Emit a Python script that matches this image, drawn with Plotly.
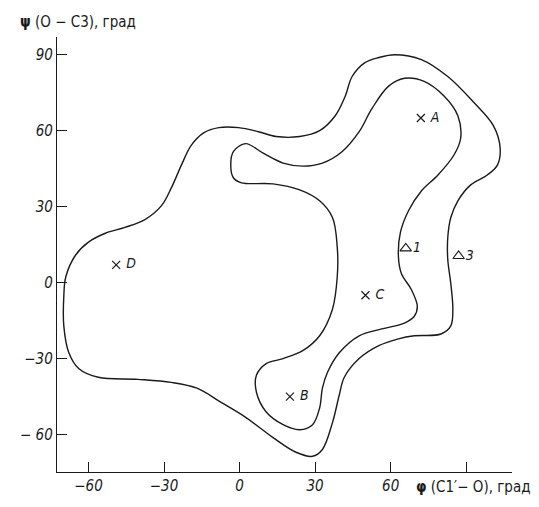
import plotly.graph_objects as go

# Contour 1 (inner) and contour 3 (outer), in degrees: phi (x), psi (y)
outer_phi = [-65.1, -60.0, -53.3, -45.5, -37.6, -31.0, -27.1, -23.1, -19.2, -14.1, -8.2, -0.4, 7.5, 14.5,
             23.9, 31.8, 38.0, 42.0, 44.7, 49.8, 55.3, 61.6, 72.2, 82.7, 92.9, 100.8, 103.5, 102.4, 98.4,
             91.8, 86.7, 83.9, 82.7, 82.7, 83.9, 84.7, 83.9, 80.0, 69.4, 63.1, 55.3, 47.5, 41.6, 39.6,
             36.9, 32.9, 29.0, 22.4, 13.3, 2.7, -7.5, -16.9, -27.1, -40.4, -56.1, -63.9, -67.8, -69.8,
             -69.8, -69.0]
outer_psi = [10.9, 16.0, 19.5, 21.8, 24.9, 30.4, 37.4, 46.4, 54.2, 59.2, 61.2, 61.2, 59.6, 57.7,
             57.7, 60.0, 65.9, 73.7, 81.4, 86.9, 88.9, 90.0, 88.1, 81.4, 71.3, 62.0, 53.0, 46.4, 42.5,
             38.6, 32.3, 25.7, 17.9, 9.0, -0.4, -10.5, -17.1, -20.3, -21.0, -22.2, -24.9, -30.0, -37.4,
             -44.4, -55.3, -65.9, -68.6, -67.0, -61.2, -53.4, -47.2, -41.7, -39.4, -38.2, -37.4, -33.9,
             -27.7, -17.1, -5.5, 2.3]

inner_phi = [2.4, 9.4, 17.3, 25.1, 32.9, 40.8, 47.5, 52.5, 59.2, 65.5, 73.3, 81.2, 86.7, 87.8, 85.1,
             78.8, 72.2, 67.1, 63.9, 63.1, 64.3, 68.2, 70.6, 69.4, 65.5, 56.5, 47.5, 39.6, 34.9, 32.9,
             31.8, 29.0, 23.9, 17.3, 10.6, 6.7, 6.7, 10.6, 17.3, 25.1, 31.8, 36.9, 38.8, 38.8, 36.9,
             31.8, 23.9, 13.3, 0.8, -2.4, -3.5, -2.4]
inner_psi = [54.9, 51.1, 47.2, 46.0, 47.2, 51.8, 59.6, 68.6, 77.6, 80.7, 79.5, 73.7, 65.9, 56.9, 50.3,
             42.5, 36.2, 28.4, 19.9, 10.1, 3.5, -2.7, -9.4, -13.3, -16.0, -18.3, -21.0, -27.7, -35.5,
             -41.7, -49.5, -56.1, -58.1, -56.1, -51.1, -43.3, -36.6, -32.0, -30.0, -26.9, -21.0, -10.5,
             2.3, 14.0, 25.7, 32.3, 36.6, 39.0, 39.4, 41.3, 46.4, 51.8]

cross_labels = ["A", "B", "C", "D"]
cross_phi = [72, 20, 50, -49]
cross_psi = [65, -45, -5, 7]

tri_labels = ["1", "3"]
tri_phi = [66, 87]
tri_psi = [13.5, 10.5]

x_ticks = [-60, -30, 0, 30, 60, 90]
x_ticktext = ["−60", "−30", "0", "30", "60", ""]
y_ticks = [-60, -30, 0, 30, 60, 90]
y_ticktext = ["− 60", "−30", "0", "30", "60", "90"]

FONT = "Liberation Sans Narrow, DejaVu Sans Condensed, Liberation Sans, sans-serif"
INK = "#1a1a1a"

fig = go.Figure()
for xs, ys in ((outer_phi, outer_psi), (inner_phi, inner_psi)):
    fig.add_trace(go.Scatter(x=xs + xs[:1], y=ys + ys[:1], mode="lines",
                             line=dict(color=INK, width=1.4, shape="spline", smoothing=1.0),
                             hoverinfo="skip"))

fig.add_trace(go.Scatter(x=cross_phi, y=cross_psi, mode="markers+text",
                         text=[" " + t for t in cross_labels], textposition="middle right",
                         textfont=dict(family=FONT, size=14, color=INK, style="italic"),
                         marker=dict(symbol="x-thin", size=8, color=INK, line=dict(color=INK, width=1.2))))
fig.add_trace(go.Scatter(x=tri_phi, y=tri_psi, mode="markers+text",
                         text=tri_labels, textposition="middle right",
                         textfont=dict(family=FONT, size=14, color=INK, style="italic"),
                         marker=dict(symbol="triangle-up-open", size=10, color=INK,
                                     line=dict(color=INK, width=1.1))))

# page body has an 8px default margin: figure is 531x499 placed at (8,8)
fig.update_layout(
    width=531, height=499,
    margin=dict(l=43, r=27, t=29, b=29),
    paper_bgcolor="white", plot_bgcolor="white",
    showlegend=False,
    xaxis=dict(range=[-72.5, 108.2], tickvals=x_ticks, ticktext=x_ticktext,
               ticks="inside", ticklen=10, tickwidth=1, tickcolor=INK,
               showline=True, linecolor=INK, linewidth=1.4, showgrid=False, zeroline=False,
               tickfont=dict(family=FONT, size=15, color=INK, style="italic")),
    yaxis=dict(range=[-74.8, 97.0], tickvals=y_ticks, ticktext=y_ticktext,
               ticks="inside", ticklen=10, tickwidth=1, tickcolor=INK,
               showline=True, linecolor=INK, linewidth=1.4, showgrid=False, zeroline=False,
               tickfont=dict(family=FONT, size=15, color=INK, style="italic")),
    annotations=[
        dict(text="<b>ψ</b> (O − C3), град", xref="paper", yref="paper", x=-0.085, y=1.034,
             xanchor="left", yanchor="middle", showarrow=False,
             font=dict(family=FONT, size=15, color=INK)),
        dict(text="<b>φ</b> (C1′− O), град", xref="paper", yref="paper", x=0.785, y=-0.034,
             xanchor="left", yanchor="middle", showarrow=False,
             font=dict(family=FONT, size=15, color=INK)),
    ],
)

fig.write_html("out.html")
